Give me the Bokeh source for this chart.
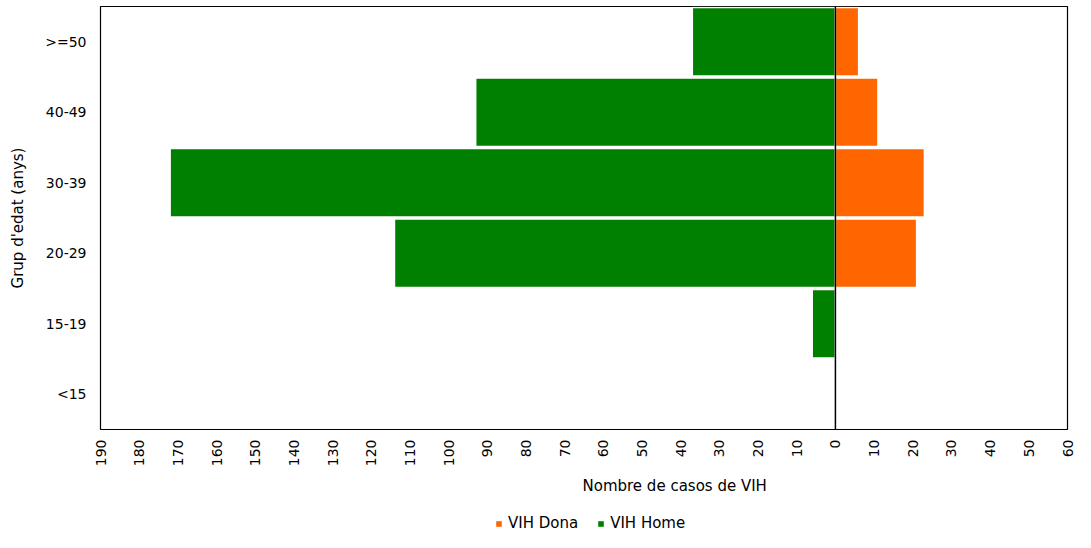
import math
from bokeh.plotting import figure
from bokeh.layouts import column
from bokeh.models import (FactorRange, Range1d, Span, Legend, LegendItem, Label,
                          CustomJSTickFormatter, FixedTicker, ColumnDataSource)
from bokeh.embed import file_html
from bokeh.resources import INLINE

# Data
age_groups = ["<15", "15-19", "20-29", "30-39", "40-49", ">=50"]
vih_home = [0, 6, 114, 172, 93, 37]
vih_dona = [0, 0, 21, 23, 11, 6]
x_ticks = list(range(-190, 61, 10))
series_names = ["VIH Dona", "VIH Home"]
series_colors = ["#FF6600", "#008000"]

FONT = "DejaVu Sans"
W = 1075
LEFT = 100
RIGHT_BORDER = 8
FRAME_R = W - RIGHT_BORDER

src = ColumnDataSource(dict(
    age=age_groups,
    home_left=[-v for v in vih_home],
    dona_right=vih_dona,
    zero=[0] * len(age_groups),
))

p = figure(width=W, height=470,
           y_range=FactorRange(*age_groups), x_range=Range1d(-190, 60),
           output_backend="svg", toolbar_location=None,
           min_border_left=LEFT, min_border_right=RIGHT_BORDER, min_border_top=6,
           min_border_bottom=41)

r_home = p.hbar(y="age", left="home_left", right="zero", height=0.97, source=src,
                fill_color=series_colors[1], line_color="white", line_width=1.5)
r_dona = p.hbar(y="age", left="zero", right="dona_right", height=0.97, source=src,
                fill_color=series_colors[0], line_color="white", line_width=1.5)

p.add_layout(Span(location=0, dimension="height", line_color="black", line_width=1.5))

p.xgrid.visible = False
p.ygrid.visible = False
p.outline_line_color = "black"
p.outline_line_width = 1.2

p.xaxis.ticker = FixedTicker(ticks=x_ticks)
p.xaxis.formatter = CustomJSTickFormatter(code="return Math.abs(tick).toFixed(0)")
p.xaxis.major_label_orientation = math.pi / 2
for ax in (p.xaxis, p.yaxis):
    ax.axis_line_color = None
    ax.major_tick_line_color = None
    ax.minor_tick_line_color = None
    ax.major_tick_out = 0
    ax.major_tick_in = 0
    ax.major_label_text_font = FONT
    ax.major_label_text_font_size = "14px"
    ax.major_label_text_color = "black"
    ax.axis_label_text_font = FONT
    ax.axis_label_text_font_size = "15px"
    ax.axis_label_text_font_style = "normal"
    ax.axis_label_text_color = "black"
p.xaxis.major_label_standoff = 10
p.yaxis.major_label_standoff = 14
p.yaxis.axis_label = "Grup d'edat (anys)"
p.yaxis.axis_label_standoff = 15

# Lower strip: x-axis title and legend (its frame is aligned with the main frame)
H2 = 62
p2 = figure(width=W, height=H2, x_range=Range1d(LEFT, FRAME_R), y_range=Range1d(0, H2),
            output_backend="svg", toolbar_location=None,
            x_axis_location=None, y_axis_location=None, min_border=0,
            min_border_left=LEFT, min_border_right=RIGHT_BORDER)
p2.xgrid.visible = False
p2.ygrid.visible = False
p2.outline_line_color = None

p2.add_layout(Label(x=582, y=47, text="Nombre de casos de VIH", text_font=FONT,
                    text_font_size="15px", text_color="black",
                    text_align="left", text_baseline="middle"))

dummy = ColumnDataSource(dict(y=[-1000], left=[0], right=[1]))
leg_r = [p2.hbar(y="y", left="left", right="right", height=1, source=dummy,
                 fill_color=c, line_color=None) for c in series_colors]
legend = Legend(items=[LegendItem(label=n, renderers=[r]) for n, r in zip(series_names, leg_r)],
                orientation="horizontal", location=(495 - LEFT, 0),
                label_text_font=FONT, label_text_font_size="15px",
                label_text_color="black", label_standoff=6,
                glyph_width=7, glyph_height=7, spacing=19,
                border_line_color=None, background_fill_alpha=0,
                margin=0, padding=1)
p2.add_layout(legend)

layout = column(p, p2, spacing=0)
open("out.html", "w").write(file_html(layout, INLINE))
